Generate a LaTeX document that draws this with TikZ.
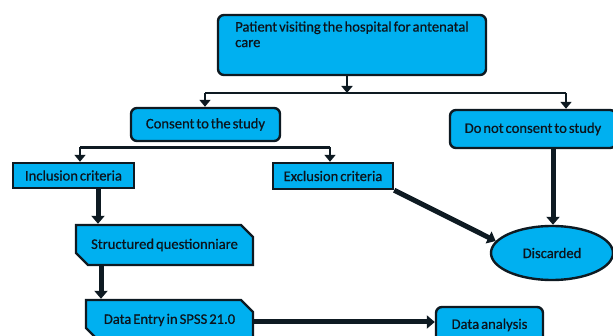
\documentclass[tikz,border=0pt]{standalone}
\usepackage{fontspec}
\setmainfont{Carlito}[WordSpace={0.6,0,0},UprightFeatures={FakeBold=0.6}]
\usetikzlibrary{arrows.meta,shapes.misc,shapes.geometric}
\definecolor{boxfill}{RGB}{0,176,240}
\definecolor{boxline}{RGB}{14,26,34}
\definecolor{txt}{RGB}{12,20,28}
\tikzset{
  base/.style={draw=boxline, fill=boxfill, line width=2.4pt, text=txt, font=\fontsize{14.6}{15.5}\selectfont, inner sep=0pt},
  roundbox/.style={base, rounded corners=6pt},
  sqbox/.style={base},
  snipbox/.style={base, chamfered rectangle, chamfered rectangle corners={north east,south west}, chamfered rectangle xsep=6pt, chamfered rectangle ysep=6pt},
  ovalbox/.style={base, ellipse},
  thinarrow/.style={draw=boxline, line width=2.5pt, -{Triangle[width=11pt,length=7pt]}},
  thinline/.style={draw=boxline, line width=2.5pt},
  thickarrow/.style={draw=boxline, line width=5pt, -{Triangle[width=13pt,length=8pt]}},
}
\begin{document}
\begin{tikzpicture}[x=1pt,y=-1pt]
\useasboundingbox (0,0) rectangle (613,336);
\node[roundbox, minimum width=268pt, minimum height=60pt, align=left] (top) at (352,45) {Patient visiting the hospital for antenatal\\care\\[6pt]\mbox{}};
\node[roundbox, minimum width=149pt, minimum height=33pt] (consent) at (205.5,124.5) {Consent to the study};
\node[roundbox, minimum width=166pt, minimum height=38pt] (dnc) at (533,129) {Do not consent to study};
\node[sqbox, minimum width=121pt, minimum height=25pt] (incl) at (73.5,175.5) {Inclusion criteria};
\node[sqbox, minimum width=120pt, minimum height=26pt] (excl) at (333,176) {Exclusion criteria};
\node[snipbox, minimum width=177pt, minimum height=40pt] (quest) at (164.5,245) {Structured questionniare};
\node[snipbox, minimum width=167pt, minimum height=40pt] (entry) at (169.5,320) {Data Entry in SPSS 21.0};
\node[roundbox, minimum width=107pt, minimum height=36pt] (anal) at (489.5,325) {Data analysis};
\node[ovalbox, minimum width=122pt, minimum height=54pt] (disc) at (552,253) {Discarded};
% bus 1
\coordinate (b1) at (347,93);
\coordinate (b1l) at (205,93);
\coordinate (b1r) at (566,93);
\draw[thinarrow] (top.south -| b1) -- (b1);
\draw[thinline] (b1l) -- (b1r);
\draw[thinarrow] (b1l) -- (consent.north -| b1l);
\draw[thinarrow] (b1r) -- (dnc.north -| b1r);
% bus 2
\coordinate (b2l) at (80,147.5);
\coordinate (b2r) at (330,147.5);
\draw[thinline] (b2l) -- (b2r);
\draw[thinarrow] (b2l) -- (incl.north -| b2l);
\draw[thinarrow] (b2r) -- (excl.north -| b2r);
% flow
\coordinate (c1) at (98,0);
\coordinate (c2) at (101,0);
\draw[thickarrow] (incl.south -| c1) -- (quest.north -| c1);
\draw[thickarrow] (quest.south -| c2) -- (entry.north -| c2);
\coordinate (c3) at (0,322);
\draw[thickarrow] (entry.east |- c3) -- (anal.west |- c3);
\draw[thickarrow] (excl.south east) -- (disc.168);
\coordinate (c4) at (553,0);
\draw[thickarrow] (dnc.south -| c4) -- (disc.north -| c4);
\end{tikzpicture}
\end{document}
